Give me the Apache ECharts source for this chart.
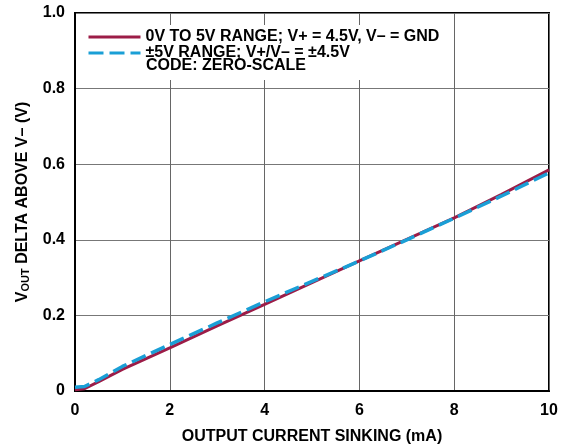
<!DOCTYPE html>
<html><head><meta charset="utf-8">
<script src="https://cdn.jsdelivr.net/npm/echarts@6/dist/echarts.min.js"></script>
<style>html,body{margin:0;padding:0;background:#fff}#c{width:564px;height:446px}</style>
</head><body><div id="c"></div>
<script>
const xRed = [0, 0.2, 0.5, 1, 2, 3, 4, 5, 6, 7, 8, 9, 10];
const yRed = [0.003, 0.006, 0.025, 0.057, 0.114, 0.172, 0.229, 0.287, 0.344, 0.401, 0.458, 0.52, 0.585];
const xBlue = [0, 0.2, 0.5, 1, 2, 3, 4, 5, 6, 7, 8, 9, 10];
const yBlue = [0.01, 0.012, 0.03, 0.065, 0.123, 0.18, 0.236, 0.29, 0.344, 0.4, 0.457, 0.516, 0.577];
const seriesNames = ['0V TO 5V RANGE; V+ = 4.5V, V\u2013 = GND', '\u00B15V RANGE; V+/V\u2013 = \u00B14.5V'];
const noteText = 'CODE: ZERO-SCALE';
const xTicks = [0, 2, 4, 6, 8, 10];
const yTicks = [0, 0.2, 0.4, 0.6, 0.8, 1.0];

const F = 'Liberation Sans, Arial, sans-serif';
const chart = echarts.init(document.getElementById('c'));
chart.setOption({
  animation: false,
  grid: {left: 75, right: 15, top: 13, bottom: 55, outerBoundsMode: 'none', containLabel: false,
         show: true, borderColor: '#000', borderWidth: 2, backgroundColor: 'transparent'},
  xAxis: {
    type: 'value', min: 0, max: 10, interval: 2,
    name: 'OUTPUT CURRENT SINKING (mA)', nameLocation: 'middle', nameGap: 38,
    nameTextStyle: {fontFamily: F, fontWeight: 'bold', fontSize: 16, color: '#000'},
    axisLine: {lineStyle: {color: '#000', width: 2}},
    axisTick: {show: false},
    axisLabel: {fontFamily: F, fontWeight: 'bold', fontSize: 16, color: '#000', margin: 12,
      formatter: v => xTicks.includes(v) ? String(v) : ''},
    splitLine: {lineStyle: {color: '#666', width: 1}}
  },
  yAxis: {
    type: 'value', min: 0, max: 1, interval: 0.2,
    name: '{v|V}{s|OUT}{v| DELTA ABOVE V\u2013 (V)}', nameLocation: 'middle', nameGap: 40,
    nameTextStyle: {rich: {
      v: {fontFamily: F, fontWeight: 'bold', fontSize: 16, color: '#000'},
      s: {fontFamily: F, fontWeight: 'bold', fontSize: 11, color: '#000', verticalAlign: 'bottom', padding: [7, 0, 0, 0]}
    }},
    axisLine: {lineStyle: {color: '#000', width: 2}},
    axisTick: {show: false},
    axisLabel: {fontFamily: F, fontWeight: 'bold', fontSize: 16, color: '#000', margin: 10,
      formatter: v => { const t = yTicks.find(k => Math.abs(k - v) < 1e-9); return t === undefined ? '' : (t === 0 ? '0' : t.toFixed(1)); }},
    splitLine: {lineStyle: {color: '#777', width: 1}}
  },
  legend: {
    orient: 'vertical', left: 80, top: 25, itemWidth: 52, itemHeight: 12, itemGap: 0,
    padding: [4, 8, 19, 7], backgroundColor: '#fff',
    itemStyle: {opacity: 0},
    lineStyle: {width: 3},
    textStyle: {fontFamily: F, fontWeight: 'bold', fontSize: 16, lineHeight: 15, color: '#000'},
    data: seriesNames
  },
  graphic: [{
    type: 'text', left: 146, top: 58, z: 100,
    style: {text: noteText, font: 'bold 16px ' + F, fill: '#000'}
  }],
  series: [
    {name: seriesNames[0], type: 'line', symbol: 'none', smooth: false,
     data: xRed.map((x, i) => [x, yRed[i]]),
     lineStyle: {color: '#9c1c47', width: 3}, itemStyle: {color: '#9c1c47'}, z: 3},
    {name: seriesNames[1], type: 'line', symbol: 'none', smooth: false,
     data: xBlue.map((x, i) => [x, yBlue[i]]),
     lineStyle: {color: '#1a9fd6', width: 3.5, type: [15, 6]}, itemStyle: {color: '#1a9fd6'}, z: 4}
  ]
});
</script></body></html>
